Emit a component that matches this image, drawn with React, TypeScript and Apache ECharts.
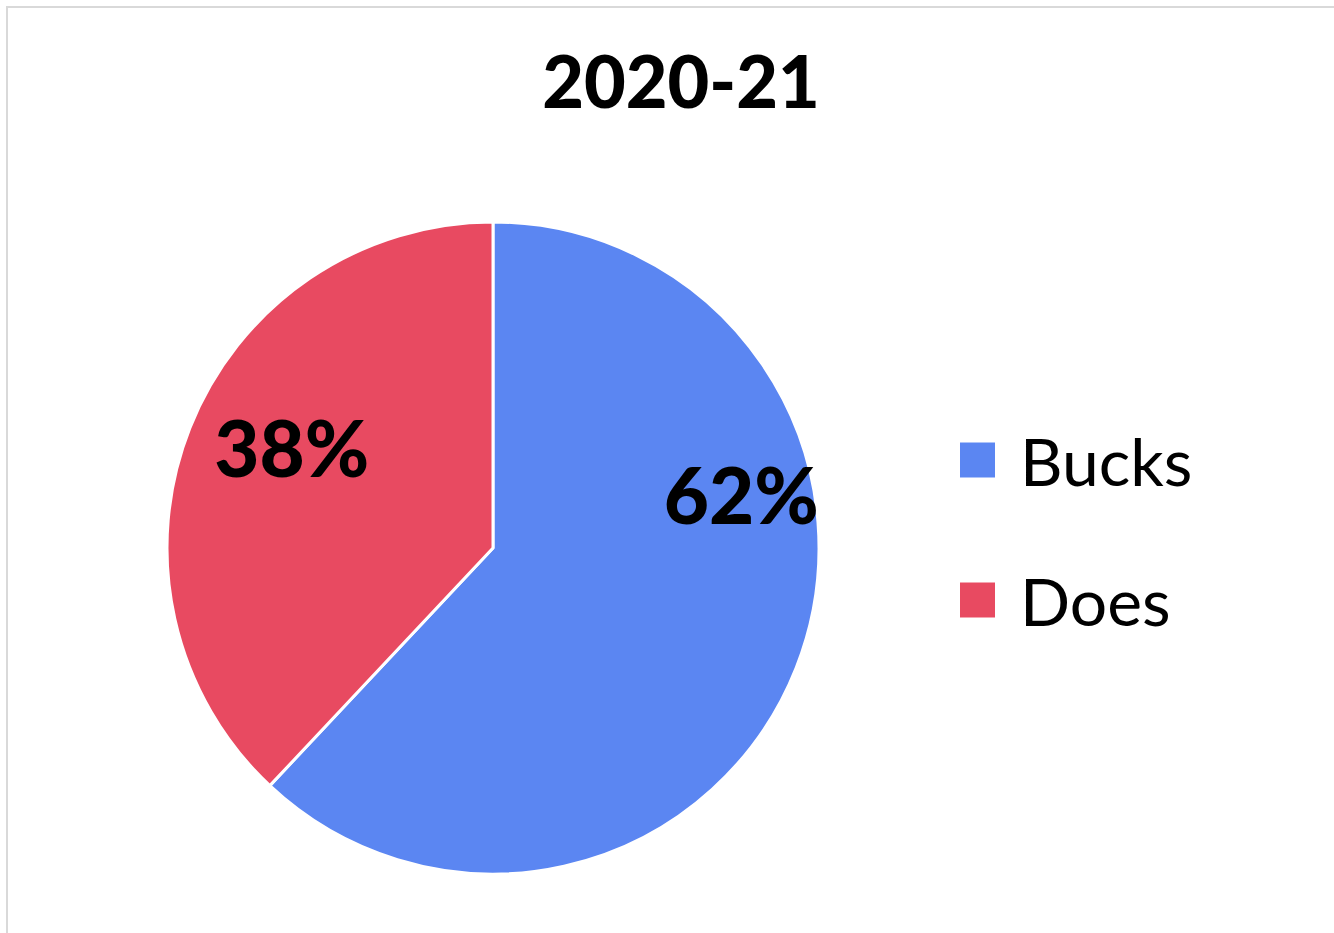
import React, { useEffect, useRef } from "react";
import * as echarts from "echarts";

const titleText = "2020-21";
const categories = ["Bucks", "Does"];
const values = [62, 38];
const colors = ["#5B86F2", "#E84A61"];
const labelOffsets = [
  [94, -115],
  [-47, -40],
];

export default function App() {
  const ref = useRef<HTMLDivElement>(null);
  useEffect(() => {
    if (!ref.current) return;
    const chart = echarts.init(ref.current, undefined, { renderer: "svg" });
    chart.setOption({
      animation: false,
      backgroundColor: "#ffffff",
      title: {
        text: titleText,
        left: 676,
        top: 37,
        textAlign: "center",
        textStyle: {
          fontFamily: "Lato",
          fontWeight: 900,
          fontSize: 72,
          lineHeight: 76,
          color: "#000000",
        },
      },
      legend: {
        orient: "vertical",
        left: 953,
        top: 418,
        itemWidth: 37,
        itemHeight: 37,
        itemGap: 66,
        icon: "rect",
        data: categories,
        textStyle: {
          fontFamily: "Lato",
          fontSize: 66,
          lineHeight: 66,
          color: "#000000",
          padding: [0, 0, 8, 19],
        },
      },
      graphic: [
        {
          type: "rect",
          shape: { x: 7, y: 7, width: 1400, height: 1000 },
          style: { fill: "none", stroke: "#d9d9d9", lineWidth: 2 },
          silent: true,
        },
      ],
      series: [
        {
          type: "pie",
          center: [493, 548],
          radius: 326,
          startAngle: 90,
          clockwise: true,
          itemStyle: { borderColor: "#ffffff", borderWidth: 3 },
          label: {
            show: true,
            position: "inside",
            formatter: "{d}%",
            fontFamily: "Lato",
            fontWeight: 900,
            fontSize: 78,
            color: "#000000",
          },
          labelLine: { show: false },
          data: categories.map((name, i) => ({
            name,
            value: values[i],
            itemStyle: { color: colors[i] },
            label: { offset: labelOffsets[i] },
          })),
        },
      ],
    });
    return () => chart.dispose();
  }, []);
  return (
    <div
      ref={ref}
      style={{ position: "fixed", left: 0, top: 0, width: 1334, height: 933 }}
    />
  );
}
